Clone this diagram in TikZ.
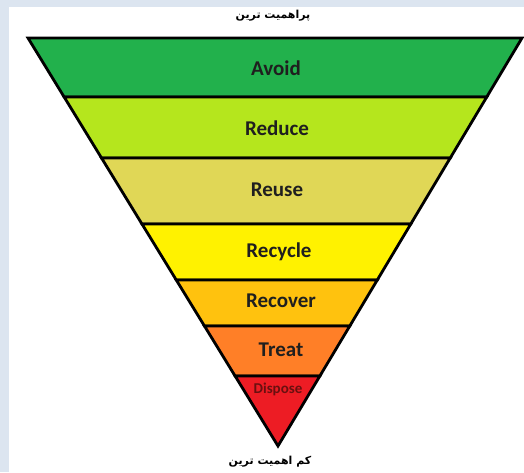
\documentclass[tikz,border=0pt]{standalone}
\usepackage{fontspec}
\setmainfont{Carlito}
\newfontfamily\farsifont[Script=Arabic]{DejaVu Sans}
\TeXXeTstate=1
\usetikzlibrary{calc}
\definecolor{pageblue}{HTML}{DCE5F0}
\definecolor{avoidgreen}{HTML}{22B14C}
\definecolor{reducelime}{HTML}{B5E61D}
\definecolor{reusekhaki}{HTML}{E0D756}
\definecolor{recycleyellow}{HTML}{FFF200}
\definecolor{recovergold}{HTML}{FFC20E}
\definecolor{treatorange}{HTML}{FF7F27}
\definecolor{disposered}{HTML}{ED1C24}
\definecolor{disposetext}{HTML}{6A1010}

\begin{document}
\begin{tikzpicture}[x=1pt,y=-1pt,
  band/.style={draw=black,line width=2.8pt,line join=miter},
  lbl/.style={font=\bfseries\fontsize{21}{25}\selectfont,text=black!88},
  farsi/.style={font=\farsifont\bfseries\fontsize{11}{13}\selectfont}]
  \useasboundingbox (0,0) rectangle (524,472);
  \fill[pageblue] (0,0) rectangle (524,472);
  \fill[white] (9,7) rectangle (524,472);
  \coordinate (TL) at (28,38);
  \coordinate (TR) at (522,38);
  \coordinate (A) at (278,446);
  % bands, top to bottom
  \foreach \ta/\tb/\col in {0/0.1446/avoidgreen,0.1446/0.2941/reducelime,
      0.2941/0.4559/reusekhaki,0.4559/0.5931/recycleyellow,
      0.5931/0.7059/recovergold,0.7059/0.8284/treatorange,0.8284/1/disposered}{
    \filldraw[band,fill=\col] ($(TL)!\ta!(A)$) -- ($(TR)!\ta!(A)$)
      -- ($(TR)!\tb!(A)$) -- ($(TL)!\tb!(A)$) -- cycle;
  }
  \node[lbl] (avoid) at (276,68) {Avoid};
  \node[lbl] (reduce) at (277,128) {Reduce};
  \node[lbl] (reuse) at (277,190) {Reuse};
  \node[lbl] (recycle) at (279,252) {Recycle};
  \node[lbl] (recover) at (281,301) {Recover};
  \node[lbl] (treat) at (281,350) {Treat};
  \node[lbl,font=\bfseries\fontsize{15}{18}\selectfont,text=disposetext] (dispose) at (278,389) {Dispose};
  \node[farsi] (most) at (273,16) {\beginR پراهمیت ترین\endR};
  \node[farsi] (least) at (270,462) {\beginR کم اهمیت ترین\endR};
\end{tikzpicture}
\end{document}
